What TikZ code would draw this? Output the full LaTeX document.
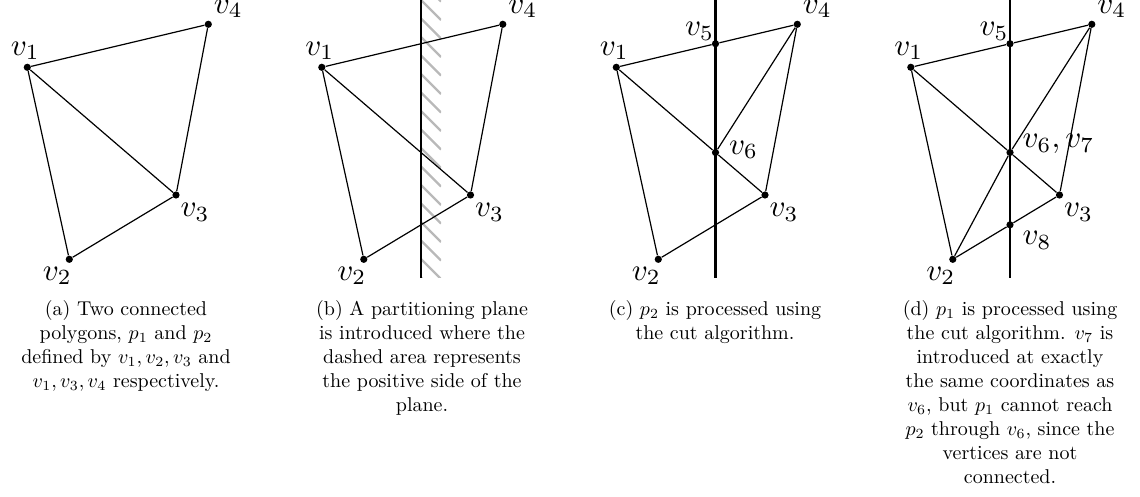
\documentclass[tikz,border=0pt]{standalone}
\usetikzlibrary{calc}
\begin{document}
\begin{tikzpicture}[x=0.5pt,y=-0.5pt,
  edge/.style={line width=0.6pt},
  plane/.style={line width=1.3pt},
  hatch/.style={line width=1.1pt, draw=gray!55},
  vdot/.style={circle, fill=black, inner sep=0pt, minimum size=3.6pt},
  lbl/.style={inner sep=0pt, anchor=base west, scale=1.55},
  captext/.style={inner sep=0pt, anchor=north, align=center}]
\useasboundingbox (0,0) rectangle (1140,497);

\newcommand\mkverts[1]{%
  \coordinate (#1c1) at (27.3,67.3);
  \coordinate (#1c2) at (69.3,259.3);
  \coordinate (#1c3) at (176,195);
  \coordinate (#1c4) at (208.3,24.3);
  \coordinate (#1top) at (126.5,0);
  \coordinate (#1bot) at (126.5,278);
}

% ---------- (a) ----------
\begin{scope}
  \mkverts{a}
  \foreach \i in {1,...,4} \node[vdot] (av\i) at (ac\i) {};
  \draw[edge] (av1) -- (av4) (av4) -- (av3) (av1) -- (av3) (av1) -- (av2) (av2) -- (av3);
  \node[lbl] (al1) at ($(av1)+(-17,-12)$) {$v_1$};
  \node[lbl] (al2) at ($(av2)+(-27,21)$) {$v_2$};
  \node[lbl] (al3) at ($(av3)+(4,22)$) {$v_3$};
  \node[lbl] (al4) at ($(av4)+(5,-11)$) {$v_4$};
\end{scope}

% ---------- (b) ----------
\begin{scope}[shift={(294.5,0)}]
  \mkverts{b}
  \begin{scope}
    \clip (126.5,0) rectangle (146.5,278);
    \foreach \k in {-2,...,15} \draw[hatch] (126.5,\k*18.5) -- ++(20,20);
  \end{scope}
  \foreach \i in {1,...,4} \node[vdot] (bv\i) at (bc\i) {};
  \draw[edge] (bv1) -- (bv4) (bv4) -- (bv3) (bv1) -- (bv3) (bv1) -- (bv2) (bv2) -- (bv3);
  \draw[plane] (btop) -- (bbot);
  \node[lbl] (bl1) at ($(bv1)+(-17,-12)$) {$v_1$};
  \node[lbl] (bl2) at ($(bv2)+(-27,21)$) {$v_2$};
  \node[lbl] (bl3) at ($(bv3)+(4,22)$) {$v_3$};
  \node[lbl] (bl4) at ($(bv4)+(5,-11)$) {$v_4$};
\end{scope}

% ---------- (c) ----------
\begin{scope}[shift={(589,0)}]
  \mkverts{c}
  \coordinate (cc5) at (intersection of cc1--cc4 and ctop--cbot);
  \coordinate (cc6) at (intersection of cc1--cc3 and ctop--cbot);
  \foreach \i in {1,...,6} \node[vdot] (cv\i) at (cc\i) {};
  \draw[plane] (ctop) -- (cbot);
  \draw[edge] (cv1) -- (cv5) (cv5) -- (cv4) (cv4) -- (cv3) (cv3) -- (cv6) (cv6) -- (cv1)
              (cv4) -- (cv6) (cv1) -- (cv2) (cv2) -- (cv3);
  \node[lbl] (cl1) at ($(cv1)+(-17,-12)$) {$v_1$};
  \node[lbl] (cl2) at ($(cv2)+(-27,21)$) {$v_2$};
  \node[lbl] (cl3) at ($(cv3)+(4,22)$) {$v_3$};
  \node[lbl] (cl4) at ($(cv4)+(5,-11)$) {$v_4$};
  \node[lbl] (cl5) at ($(cv5)+(-31,-8)$) {$v_5$};
  \node[lbl] (cl6) at ($(cv6)+(13,1.5)$) {$v_6$};
\end{scope}

% ---------- (d) ----------
\begin{scope}[shift={(883.5,0)}]
  \mkverts{d}
  \coordinate (dc5) at (intersection of dc1--dc4 and dtop--dbot);
  \coordinate (dc6) at (intersection of dc1--dc3 and dtop--dbot);
  \coordinate (dc8) at (intersection of dc2--dc3 and dtop--dbot);
  \foreach \i in {1,...,6,8} \node[vdot] (dv\i) at (dc\i) {};
  \draw[plane] (dtop) -- (dbot);
  \draw[edge] (dv1) -- (dv5) (dv5) -- (dv4) (dv4) -- (dv3) (dv3) -- (dv6) (dv6) -- (dv1)
              (dv4) -- (dv6) (dv1) -- (dv2) (dv2) -- (dv8) (dv8) -- (dv3) (dv2) -- (dv6);
  \node[lbl] (dl1) at ($(dv1)+(-17,-12)$) {$v_1$};
  \node[lbl] (dl2) at ($(dv2)+(-27,21)$) {$v_2$};
  \node[lbl] (dl3) at ($(dv3)+(4,22)$) {$v_3$};
  \node[lbl] (dl4) at ($(dv4)+(5,-11)$) {$v_4$};
  \node[lbl] (dl5) at ($(dv5)+(-31,-8)$) {$v_5$};
  \node[lbl] (dl6) at ($(dv6)+(12,-5)$) {$v_6, v_7$};
  \node[lbl] (dl8) at ($(dv8)+(12,20)$) {$v_8$};
\end{scope}

% ---------- captions ----------
\node[captext] (capa) at (126,300) {(a) Two connected\\ polygons, $p_1$ and $p_2$\\ defined by $v_1, v_2, v_3$ and\\ $v_1, v_3, v_4$ respectively.};
\node[captext] (capb) at (422,300) {(b) A partitioning plane\\ is introduced where the\\ dashed area represents\\ the positive side of the\\ plane.};
\node[captext] (capc) at (715,300) {(c) $p_2$ is processed using\\ the cut algorithm.};
\node[captext] (capd) at (1010,300) {(d) $p_1$ is processed using\\ the cut algorithm. $v_7$ is\\ introduced at exactly\\ the same coordinates as\\ $v_6$, but $p_1$ cannot reach\\ $p_2$ through $v_6$, since the\\ vertices are not\\ connected.};
\end{tikzpicture}
\end{document}
